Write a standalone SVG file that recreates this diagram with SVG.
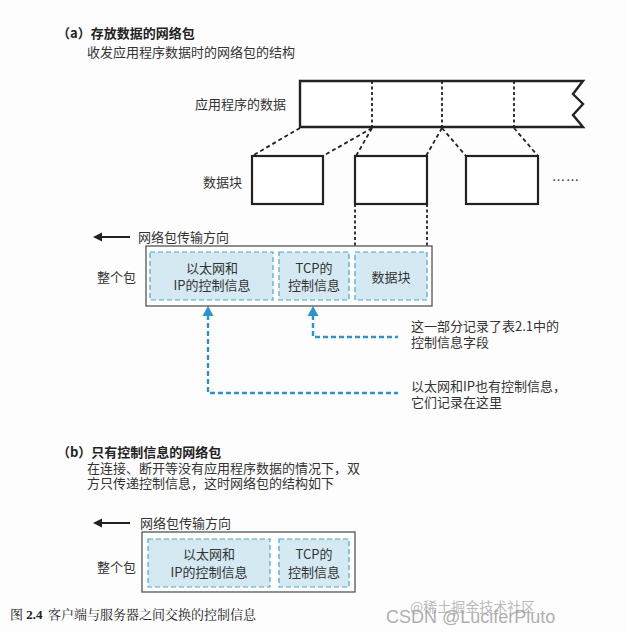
<svg xmlns="http://www.w3.org/2000/svg" width="626" height="633" viewBox="0 0 626 633">
<defs>
<style>
.t{font-family:"Noto Sans CJK SC","Liberation Sans",sans-serif;font-size:13px;fill:#333}
.tb{font-family:"Noto Sans CJK SC","Liberation Sans",sans-serif;font-size:13px;fill:#222;font-weight:bold}
.c{text-anchor:middle}
.bar{fill:#fff;stroke:#222;stroke-width:2.4}
.blk{fill:#fff;stroke:#222;stroke-width:2.2}
.dot{stroke:#222;stroke-width:1.8;stroke-dasharray:3 2.5;fill:none}
.dash{stroke:#222;stroke-width:1.8;stroke-dasharray:4 3;fill:none}
.outer{fill:#fff;stroke:#555;stroke-width:1.3}
.ib{fill:#d4e9f2;stroke:#4fa6cf;stroke-width:1.2;stroke-dasharray:5 3}
.bl{stroke:#2b93cf;stroke-width:2.4;stroke-dasharray:5 3;fill:none}
.cap{font-family:"Noto Serif CJK SC","Noto Sans CJK SC","Liberation Serif",serif;font-size:13px;fill:#222}
</style>
</defs>
<rect width="626" height="633" fill="#fdfdfd"/>

<g id="title-a">
<text class="tb" x="57" y="38">（a）存放数据的网络包</text>
<text class="t" x="87" y="57">收发应用程序数据时的网络包的结构</text>
</g>

<g id="app-data">
<text class="t" x="195" y="109">应用程序的数据</text>
<path class="bar" d="M583,81 H300 V127 H583 L573,115 L583,104 L573,94 Z"/>
<line class="dot" x1="372" y1="81" x2="372" y2="127"/>
<line class="dot" x1="442" y1="81" x2="442" y2="127"/>
<line class="dot" x1="514" y1="81" x2="514" y2="127"/>
</g>

<g id="connectors">
<line class="dash" x1="300" y1="128" x2="252" y2="156"/>
<line class="dash" x1="372" y1="128" x2="323" y2="156"/>
<line class="dash" x1="372" y1="128" x2="356" y2="156"/>
<line class="dash" x1="442" y1="128" x2="426" y2="156"/>
<line class="dash" x1="442" y1="128" x2="466" y2="156"/>
<line class="dash" x1="514" y1="128" x2="538" y2="156"/>
<line class="dot" x1="355" y1="204" x2="355" y2="253"/>
<line class="dot" x1="427" y1="204" x2="427" y2="253"/>
<polyline class="bl" points="208,315 208,393 398,393"/>
<polyline class="bl" points="313,315 313,337 398,337"/>
<path d="M208,306 L202.5,316 L213.5,316 Z" fill="#2b93cf"/>
<path d="M313,306 L307.5,316 L318.5,316 Z" fill="#2b93cf"/>
</g>

<g id="blocks">
<text class="t" x="203" y="187">数据块</text>
<rect class="blk" x="252" y="156" width="71" height="48"/>
<rect class="blk" x="355" y="156" width="72" height="48"/>
<rect class="blk" x="466" y="156" width="72" height="48"/>
<text class="t" x="552" y="185" style="letter-spacing:1px">……</text>
</g>

<g id="packet-a">
<path d="M93,237 L102,232.5 L102,241.5 Z" fill="#222"/>
<line x1="100" y1="237" x2="130" y2="237" stroke="#222" stroke-width="2"/>
<text class="t" x="138" y="242">网络包传输方向</text>
<text class="t" x="97" y="282">整个包</text>
<rect class="outer" x="146" y="246" width="286" height="60"/>
<rect class="ib" x="150" y="252" width="123" height="48"/>
<rect class="ib" x="279" y="252" width="70" height="48"/>
<rect class="ib" x="355" y="252" width="72" height="48"/>
<text class="t c" x="212" y="273">以太网和</text>
<text class="t c" x="212" y="290">IP的控制信息</text>
<text class="t c" x="314" y="273">TCP的</text>
<text class="t c" x="314" y="290">控制信息</text>
<text class="t c" x="391" y="282">数据块</text>
</g>

<g id="notes">
<text class="t" x="411" y="331">这一部分记录了表2.1中的</text>
<text class="t" x="411" y="347">控制信息字段</text>
<text class="t" x="411" y="391">以太网和IP也有控制信息，</text>
<text class="t" x="411" y="407">它们记录在这里</text>
</g>

<g id="title-b">
<text class="tb" x="57" y="457">（b）只有控制信息的网络包</text>
<text class="t" x="87" y="473">在连接、断开等没有应用程序数据的情况下，双</text>
<text class="t" x="87" y="488">方只传递控制信息，这时网络包的结构如下</text>
</g>

<g id="packet-b">
<path d="M93,523 L102,518.5 L102,527.5 Z" fill="#222"/>
<line x1="100" y1="523" x2="130" y2="523" stroke="#222" stroke-width="2"/>
<text class="t" x="140" y="528">网络包传输方向</text>
<text class="t" x="97" y="572">整个包</text>
<rect class="outer" x="142" y="532" width="213" height="60"/>
<rect class="ib" x="148" y="539" width="122" height="48"/>
<rect class="ib" x="279" y="539" width="70" height="48"/>
<text class="t c" x="209" y="559">以太网和</text>
<text class="t c" x="209" y="577">IP的控制信息</text>
<text class="t c" x="314" y="559">TCP的</text>
<text class="t c" x="314" y="577">控制信息</text>
</g>

<g id="caption">
<text class="cap" x="10" y="619">图 <tspan font-weight="bold" font-family="Liberation Serif">2.4</tspan><tspan x="48">客户端与服务器之间交换的控制信息</tspan></text>
</g>

<g id="watermark">
<text x="410" y="612" style="font-family:'Noto Sans CJK SC',sans-serif;font-size:14px;fill:#bbb">@稀土掘金技术社区</text>
<text x="386" y="623" style="font-family:'Liberation Sans',sans-serif;font-size:18px;fill:#999;fill-opacity:0.8">CSDN @LuciferPluto</text>
</g>
</svg>
